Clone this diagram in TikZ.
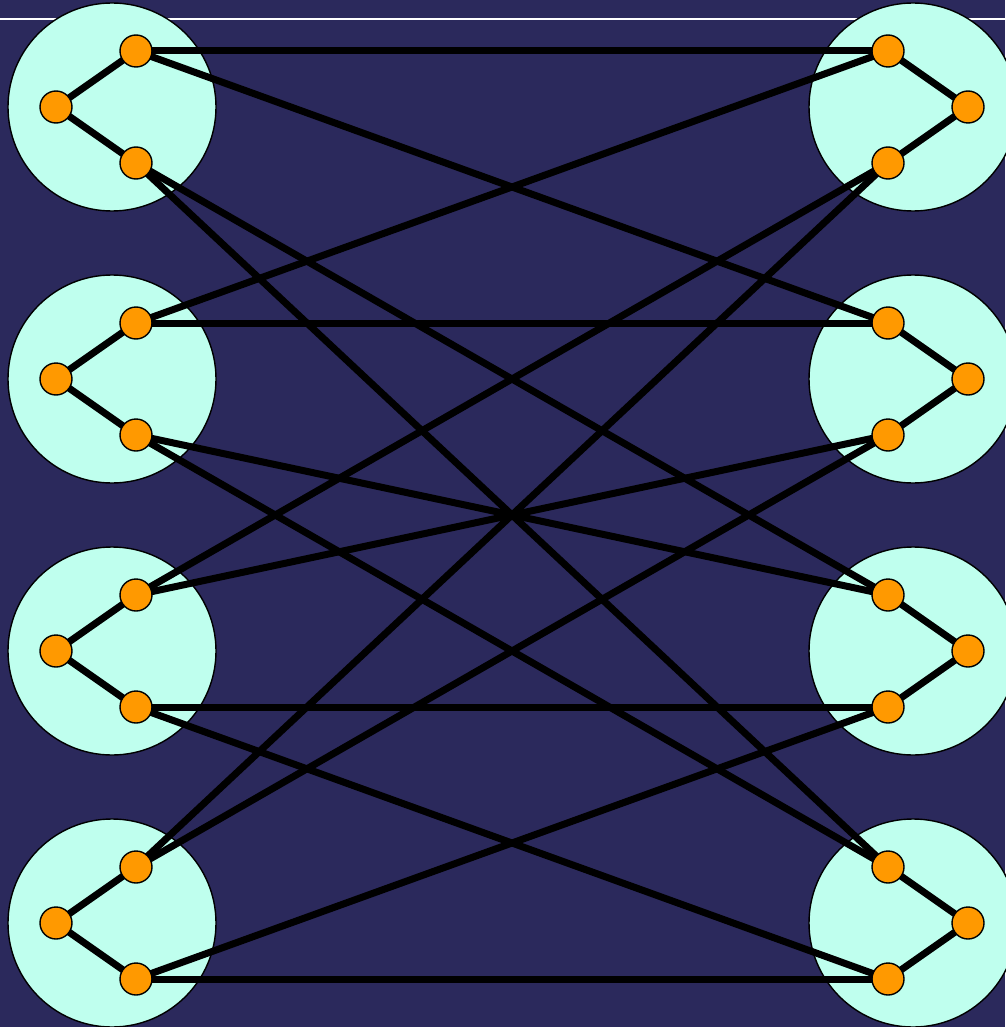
\documentclass[tikz,border=0pt]{standalone}
\definecolor{bg}{HTML}{2B295C}
\definecolor{disc}{HTML}{BFFFEE}
\definecolor{dot}{HTML}{FF9900}
\begin{document}
\begin{tikzpicture}[x=1pt,y=-1pt,
  group/.style={circle,draw=black,line width=1.4pt,fill=disc,minimum size=208pt,inner sep=0pt},
  vert/.style={circle,draw=black,line width=1.4pt,fill=dot,minimum size=32pt,inner sep=0pt},
  link/.style={draw=black,line width=7pt}]
\useasboundingbox (0,0) rectangle (1005,1027);
\fill[bg] (0,0) rectangle (1005,1027);
\draw[white,line width=2.2pt] (0,19) -- (1005,19);
\foreach \i/\y in {1/107,2/379,3/651,4/923}{
  \node[group] (GL\i) at (112,\y) {};
  \node[group] (GR\i) at (913,\y) {};
}
\foreach \i/\y in {1/107,2/379,3/651,4/923}{
  \coordinate (L\i t) at (136,\y-56);
  \coordinate (L\i m) at (56,\y);
  \coordinate (L\i b) at (136,\y+56);
  \coordinate (R\i t) at (888,\y-56);
  \coordinate (R\i m) at (968,\y);
  \coordinate (R\i b) at (888,\y+56);
}
% edges
\foreach \i in {1,2,3,4}{
  \draw[link] (L\i t) -- (L\i m) -- (L\i b);
  \draw[link] (R\i t) -- (R\i m) -- (R\i b);
}
\foreach \a/\b in {L1t/R1t,L2t/R2t,L3b/R3b,L4b/R4b,
  L1t/R2t,L2t/R1t,L1b/R3t,L1b/R4t,L2b/R3t,L2b/R4t,
  L3t/R1b,L3t/R2b,L4t/R1b,L4t/R2b,L3b/R4b,L4b/R3b}{
  \draw[link] (\a) -- (\b);
}
\foreach \i in {1,2,3,4}{
  \foreach \s in {t,m,b}{
    \node[vert] (nL\i\s) at (L\i\s) {};
    \node[vert] (nR\i\s) at (R\i\s) {};
  }
}
\end{tikzpicture}
\end{document}
